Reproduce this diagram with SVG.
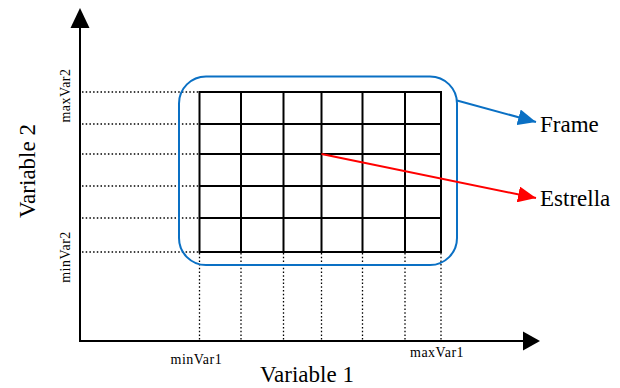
<svg xmlns="http://www.w3.org/2000/svg" width="620" height="388" viewBox="0 0 620 388">
  <defs>
    <marker id="headBlue" viewBox="0 0 10 10" refX="10" refY="5" markerWidth="18" markerHeight="16" markerUnits="userSpaceOnUse" orient="auto" preserveAspectRatio="none">
      <path d="M0,0 L10,5 L0,10 Z" fill="#0a70c4"/>
    </marker>
    <marker id="headRed" viewBox="0 0 10 10" refX="10" refY="5" markerWidth="18" markerHeight="16" markerUnits="userSpaceOnUse" orient="auto" preserveAspectRatio="none">
      <path d="M0,0 L10,5 L0,10 Z" fill="#ff0000"/>
    </marker>
  </defs>
  <style>
    .axis { stroke: #000; stroke-width: 2; fill: none; }
    .grid { stroke: #000; stroke-width: 2; fill: none; }
    .dot { stroke: #000; stroke-width: 1.3; stroke-dasharray: 1.5 2.2; fill: none; }
    .label { font-family: "Liberation Serif", "Times New Roman", serif; fill: #000; }
    .big { font-size: 23px; }
    .small { font-size: 14px; letter-spacing: 0.5px; }
  </style>
  <rect width="620" height="388" fill="#fff"/>

  <!-- axes -->
  <g id="axes">
    <line class="axis" x1="80" y1="342" x2="80" y2="28"/>
    <path d="M70.5,28 L89.5,28 L80,8 Z" fill="#000"/>
    <line class="axis" x1="79" y1="341" x2="523" y2="341"/>
    <path d="M523,331.5 L523,350.5 L540,341 Z" fill="#000"/>
  </g>

  <!-- guide lines to the axes -->
  <g id="guides">
    <line class="dot" x1="82" y1="92" x2="199" y2="92"/>
    <line class="dot" x1="82" y1="124" x2="199" y2="124"/>
    <line class="dot" x1="82" y1="154" x2="199" y2="154"/>
    <line class="dot" x1="82" y1="186" x2="199" y2="186"/>
    <line class="dot" x1="82" y1="218" x2="199" y2="218"/>
    <line class="dot" x1="82" y1="252" x2="199" y2="252"/>
    <line class="dot" x1="199.5" y1="253" x2="199.5" y2="340"/>
    <line class="dot" x1="241" y1="253" x2="241" y2="340"/>
    <line class="dot" x1="283.5" y1="253" x2="283.5" y2="340"/>
    <line class="dot" x1="321.5" y1="253" x2="321.5" y2="340"/>
    <line class="dot" x1="362.5" y1="253" x2="362.5" y2="340"/>
    <line class="dot" x1="405" y1="253" x2="405" y2="340"/>
    <line class="dot" x1="441" y1="253" x2="441" y2="340"/>
  </g>

  <!-- frame -->
  <g id="frame">
    <rect x="179" y="76.5" width="278" height="188.5" rx="27" ry="27" fill="none" stroke="#0a70c4" stroke-width="2"/>
  </g>

  <!-- grid -->
  <g id="grid">
    <rect class="grid" x="199.5" y="92" width="241.5" height="160"/>
    <line class="grid" x1="199.5" y1="124" x2="441" y2="124"/>
    <line class="grid" x1="199.5" y1="154" x2="441" y2="154"/>
    <line class="grid" x1="199.5" y1="186" x2="441" y2="186"/>
    <line class="grid" x1="199.5" y1="218" x2="441" y2="218"/>
    <line class="grid" x1="241" y1="92" x2="241" y2="252"/>
    <line class="grid" x1="283.5" y1="92" x2="283.5" y2="252"/>
    <line class="grid" x1="321.5" y1="92" x2="321.5" y2="252"/>
    <line class="grid" x1="362.5" y1="92" x2="362.5" y2="252"/>
    <line class="grid" x1="405" y1="92" x2="405" y2="252"/>
  </g>

  <!-- connectors -->
  <g id="connectors">
    <line x1="457" y1="100.5" x2="536" y2="122" stroke="#0a70c4" stroke-width="2" marker-end="url(#headBlue)"/>
    <line x1="321.5" y1="154" x2="536" y2="198" stroke="#ff0000" stroke-width="2" marker-end="url(#headRed)"/>
  </g>

  <!-- labels -->
  <g id="labels">
    <text class="label big" x="540" y="132">Frame</text>
    <text class="label big" x="540" y="206">Estrella</text>
    <text class="label big" x="307" y="382" text-anchor="middle">Variable 1</text>
    <text class="label big" transform="translate(35,171) rotate(-90)" text-anchor="middle">Variable 2</text>
    <text class="label small" x="170.5" y="364">minVar1</text>
    <text class="label small" x="410" y="357">maxVar1</text>
    <text class="label small" transform="translate(70,95.5) rotate(-90)" text-anchor="middle">maxVar2</text>
    <text class="label small" transform="translate(70,257) rotate(-90)" text-anchor="middle">minVar2</text>
  </g>
</svg>
